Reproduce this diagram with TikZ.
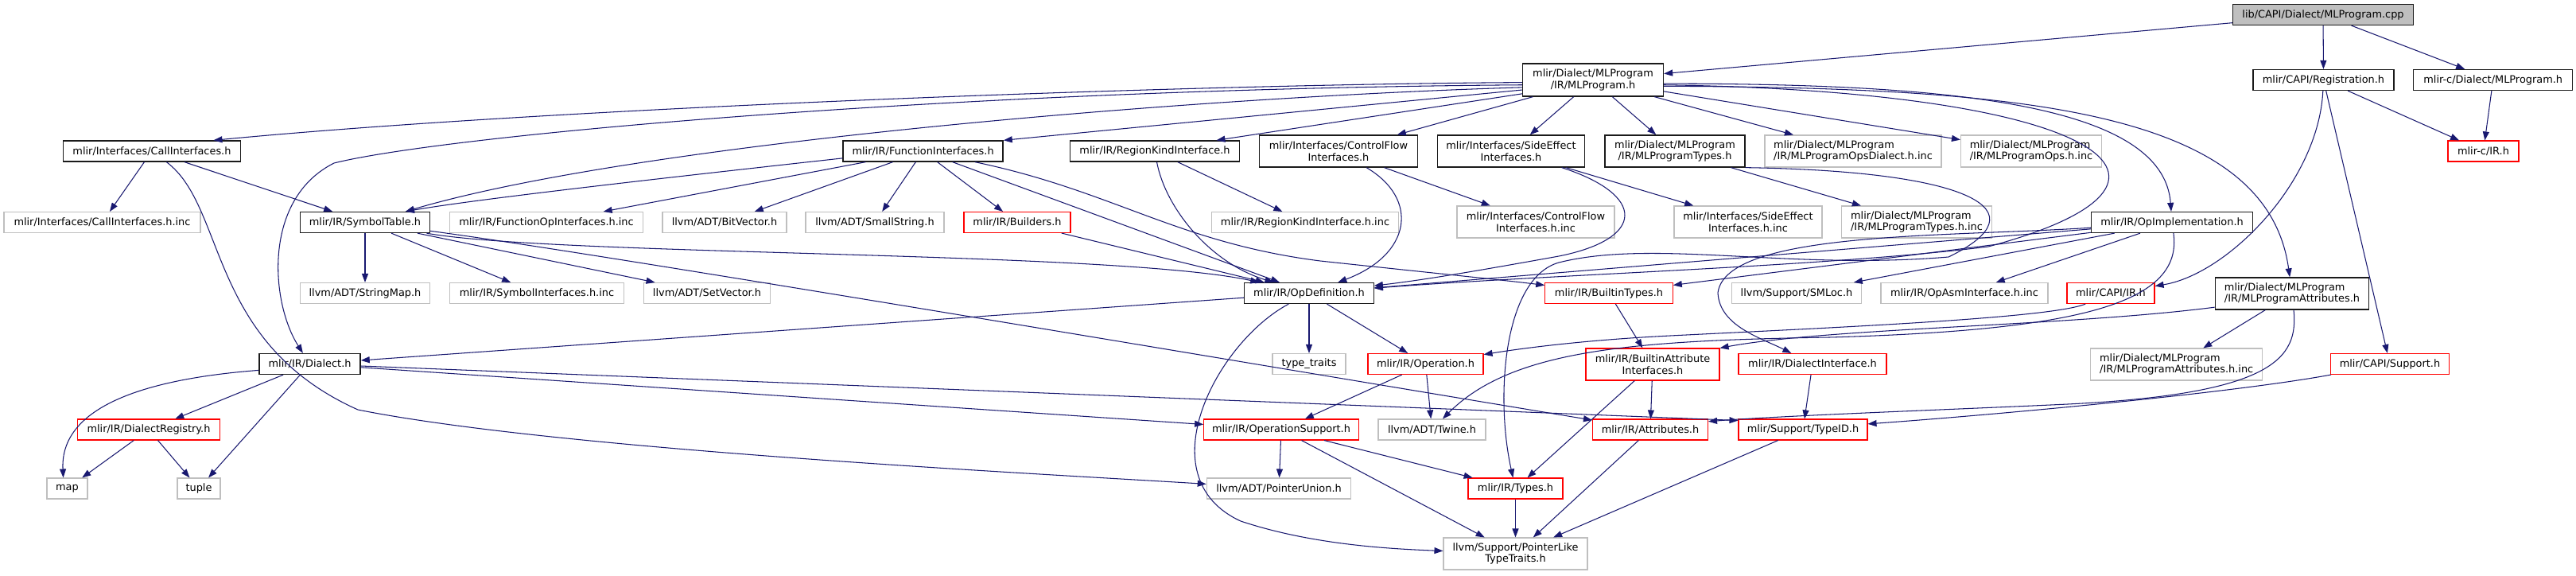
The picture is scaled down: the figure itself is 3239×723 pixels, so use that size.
\documentclass[tikz,border=0pt]{standalone}
\usepackage{fontspec}
\setmainfont{DejaVu Sans}
\usetikzlibrary{arrows.meta}
\definecolor{edgecol}{HTML}{191970}
\definecolor{docborder}{HTML}{1A1A1A}
\definecolor{grayborder}{HTML}{BFBFBF}
\definecolor{redborder}{HTML}{FF0000}
\definecolor{rootfill}{HTML}{BFBFBF}
\begin{document}
\begin{tikzpicture}[x=1pt,y=-1pt,
  base/.style={draw, line width=1.1pt, inner sep=0pt, align=center, font=\fontsize{12.9}{14.5}\selectfont, fill=white, anchor=center, minimum height=26pt},
  docnode/.style={base, draw=docborder, line width=1.3pt},
  graynode/.style={base, draw=grayborder},
  rednode/.style={base, draw=redborder},
  rootnode/.style={base, draw=docborder, line width=1.3pt, fill=rootfill},
  twoline/.style={minimum height=40pt},
  dep/.style={draw=edgecol, line width=1.05pt, -{Triangle[length=11pt,width=8pt]}}
]
\fill[white] (0,0) rectangle (3239,723);
\useasboundingbox (0,0) rectangle (3239,723);

% ---------- nodes ----------
\node[rootnode, minimum width=227pt] (cpp) at (2921,18.5) {lib/CAPI/Dialect/MLProgram.cpp};

\node[docnode, twoline, minimum width=177pt, minimum height=41pt] (mlp) at (2003,100.5) {mlir/Dialect/MLProgram\\/IR/MLProgram.h};
\node[docnode, minimum width=177pt] (reg) at (2921.5,100.5) {mlir/CAPI/Registration.h};
\node[docnode, minimum width=200pt] (cml) at (3134.7,100.5) {mlir-c/Dialect/MLProgram.h};

\node[docnode, minimum width=223pt] (calli) at (191,190) {mlir/Interfaces/CallInterfaces.h};
\node[docnode, minimum width=201pt] (funci) at (1160.6,190) {mlir/IR/FunctionInterfaces.h};
\node[docnode, minimum width=213.5pt] (regk) at (1452,190) {mlir/IR/RegionKindInterface.h};
\node[docnode, twoline, minimum width=199pt] (cfi) at (1683,190) {mlir/Interfaces/ControlFlow\\Interfaces.h};
\node[docnode, twoline, minimum width=185pt] (sei) at (1900,190) {mlir/Interfaces/SideEffect\\Interfaces.h};
\node[docnode, twoline, minimum width=176pt] (mlpt) at (2106,190) {mlir/Dialect/MLProgram\\/IR/MLProgramTypes.h};
\node[graynode, twoline, minimum width=222pt, align=left] (opsd) at (2330,190) {mlir/Dialect/MLProgram\\/IR/MLProgramOpsDialect.h.inc};
\node[graynode, twoline, minimum width=177pt, align=left] (opsinc) at (2554,190) {mlir/Dialect/MLProgram\\/IR/MLProgramOps.h.inc};
\node[rednode, minimum width=89pt] (cir) at (3122.5,190) {mlir-c/IR.h};

\node[graynode, minimum width=247pt] (callinc) at (128.5,279.5) {mlir/Interfaces/CallInterfaces.h.inc};
\node[docnode, minimum width=163pt] (symt) at (459,279.5) {mlir/IR/SymbolTable.h};
\node[graynode, minimum width=243pt] (fopinc) at (687,279.5) {mlir/IR/FunctionOpInterfaces.h.inc};
\node[graynode, minimum width=156pt] (bitv) at (911,279.5) {llvm/ADT/BitVector.h};
\node[graynode, minimum width=174pt] (smalls) at (1100,279.5) {llvm/ADT/SmallString.h};
\node[rednode, minimum width=134pt] (build) at (1279,279.5) {mlir/IR/Builders.h};
\node[graynode, minimum width=235pt] (regkinc) at (1641,279.5) {mlir/IR/RegionKindInterface.h.inc};
\node[graynode, twoline, minimum width=198pt] (cfiinc) at (1931,279) {mlir/Interfaces/ControlFlow\\Interfaces.h.inc};
\node[graynode, twoline, minimum width=186pt] (seiinc) at (2198,279) {mlir/Interfaces/SideEffect\\Interfaces.h.inc};
\node[graynode, twoline, minimum width=189pt, align=left] (mlptinc) at (2410,279) {mlir/Dialect/MLProgram\\/IR/MLProgramTypes.h.inc};
\node[docnode, minimum width=203pt] (opimpl) at (2731,279.5) {mlir/IR/OpImplementation.h};

\node[graynode, minimum width=163pt] (strmap) at (459,368.5) {llvm/ADT/StringMap.h};
\node[graynode, minimum width=218.5pt] (syminc) at (675,368.5) {mlir/IR/SymbolInterfaces.h.inc};
\node[graynode, minimum width=159pt] (setv) at (889,368.5) {llvm/ADT/SetVector.h};
\node[docnode, minimum width=162.5pt] (opdef) at (1646,368.5) {mlir/IR/OpDefinition.h};
\node[rednode, minimum width=160.5pt] (btypes) at (2023,368.5) {mlir/IR/BuiltinTypes.h};
\node[graynode, minimum width=162.5pt] (smloc) at (2259,368.5) {llvm/Support/SMLoc.h};
\node[graynode, minimum width=210pt] (opasm) at (2470,368.5) {mlir/IR/OpAsmInterface.h.inc};
\node[rednode, minimum width=110pt] (capiir) at (2654,368.5) {mlir/CAPI/IR.h};
\node[docnode, twoline, minimum width=193.5pt, align=left] (mlpa) at (2882,369) {mlir/Dialect/MLProgram\\/IR/MLProgramAttributes.h};

\node[docnode, minimum width=127pt] (dialect) at (389.6,457.5) {mlir/IR/Dialect.h};
\node[graynode, minimum width=92pt] (ttraits) at (1646,457.5) {type\_traits};
\node[rednode, minimum width=145pt] (oper) at (1792.5,457.5) {mlir/IR/Operation.h};
\node[rednode, twoline, minimum width=168pt] (bai) at (2078,458) {mlir/IR/BuiltinAttribute\\Interfaces.h};
\node[rednode, minimum width=186pt] (dint) at (2279,457.5) {mlir/IR/DialectInterface.h};
\node[graynode, twoline, minimum width=216pt, align=left] (mlpainc) at (2736.7,458) {mlir/Dialect/MLProgram\\/IR/MLProgramAttributes.h.inc};
\node[rednode, minimum width=148.5pt] (csup) at (3005,457.5) {mlir/CAPI/Support.h};

\node[rednode, minimum width=179pt] (dreg) at (187,540) {mlir/IR/DialectRegistry.h};
\node[rednode, minimum width=194.5pt] (opsup) at (1611,540) {mlir/IR/OperationSupport.h};
\node[graynode, minimum width=135pt] (twine) at (1800.5,540) {llvm/ADT/Twine.h};
\node[rednode, minimum width=145pt] (attrs) at (2075,540) {mlir/IR/Attributes.h};
\node[rednode, minimum width=162pt] (typeid) at (2267,540) {mlir/Support/TypeID.h};

\node[graynode, minimum width=51pt] (map) at (84.5,614) {map};
\node[graynode, minimum width=54pt] (tuple) at (250,614) {tuple};
\node[graynode, minimum width=181.5pt] (punion) at (1608,614) {llvm/ADT/PointerUnion.h};
\node[rednode, minimum width=119pt] (types) at (1905.5,614) {mlir/IR/Types.h};

\node[graynode, twoline, minimum width=181pt] (plike) at (1905.5,696) {llvm/Support/PointerLike\\TypeTraits.h};

% ---------- edges ----------
\draw[dep] (cpp) -- (mlp);
\draw[dep] (cpp) -- (reg);
\draw[dep] (cpp) -- (cml);
\draw[dep] (reg) -- (cir);
\draw[dep] (cml) -- (cir);
\draw[dep] (reg) .. controls (2915,230) and (2800,345) .. (capiir);
\draw[dep] (reg) -- (csup);

\draw[dep] (mlp.182) .. controls (1500,106) and (700,135) .. (calli.10);
\draw[dep] (mlp.184) .. controls (1200,112) and (560,170) .. (420,205) .. controls (330,250) and (340,380) .. (dialect);
\draw[dep] (mlp.186) .. controls (1500,122) and (800,180) .. (symt.15);
\draw[dep] (mlp.188) -- (funci.north east);
\draw[dep] (mlp.191) -- (regk.10);
\draw[dep] (mlp) -- (cfi);
\draw[dep] (mlp) -- (sei);
\draw[dep] (mlp) -- (mlpt);
\draw[dep] (mlp) -- (opsd);
\draw[dep] (mlp) -- (opsinc);
\draw[dep] (mlp.-3) .. controls (2450,105) and (2720,130) .. (opimpl);
\draw[dep] (mlp.-5) .. controls (2550,110) and (2850,140) .. (mlpa);
\draw[dep] (mlp.-4) .. controls (2650,115) and (2800,230) .. (2500,310) .. controls (2300,335) and (1950,345) .. (opdef);

\draw[dep] (calli) -- (callinc);
\draw[dep] (calli) -- (symt);
\draw[dep] (calli) .. controls (285,260) and (260,430) .. (450,515) .. controls (700,565) and (1300,595) .. (punion);

\draw[dep] (symt) -- (strmap);
\draw[dep] (symt) -- (syminc);
\draw[dep] (symt) -- (setv);
\draw[dep] (symt) .. controls (700,322) and (1400,315) .. (opdef);
\draw[dep] (symt) .. controls (750,318) and (1500,445) .. (attrs);

\draw[dep] (funci.185) .. controls (850,222) and (600,250) .. (symt.15);
\draw[dep] (funci) -- (fopinc);
\draw[dep] (funci) -- (bitv);
\draw[dep] (funci) -- (smalls);
\draw[dep] (funci) -- (build);
\draw[dep] (funci) -- (opdef);
\draw[dep] (funci) .. controls (1400,240) and (1480,305) .. (1660,328) .. controls (1800,343) and (1890,352) .. (btypes);

\draw[dep] (regk) .. controls (1465,260) and (1520,330) .. (opdef);
\draw[dep] (regk) -- (regkinc);

\draw[dep] (cfi) .. controls (1785,250) and (1775,320) .. (opdef);
\draw[dep] (cfi) -- (cfiinc);

\draw[dep] (sei) -- (seiinc);
\draw[dep] (sei) .. controls (2070,245) and (2070,300) .. (1960,322) .. controls (1860,340) and (1790,352) .. (opdef);

\draw[dep] (mlpt) -- (mlptinc);
\draw[dep] (mlpt.south east) .. controls (2480,215) and (2570,265) .. (2450,323) .. controls (2250,340) and (2080,300) .. (1960,330) .. controls (1890,350) and (1880,500) .. (types);

\draw[dep] (opimpl) -- (opdef);
\draw[dep] (opimpl) -- (btypes);
\draw[dep] (opimpl) -- (smloc);
\draw[dep] (opimpl) -- (opasm);
\draw[dep] (opimpl) .. controls (2450,298) and (2170,290) .. (2160,368) .. controls (2162,410) and (2215,425) .. (dint);
\draw[dep] (opimpl) .. controls (2745,380) and (2620,415) .. (2300,424) .. controls (2050,428) and (1900,440) .. (twine);

\draw[dep] (capiir) .. controls (2580,400) and (2300,412) .. (2100,422) .. controls (1980,428) and (1900,440) .. (oper);

\draw[dep] (mlpa) -- (mlpainc);
\draw[dep] (mlpa) .. controls (2890,450) and (2860,495) .. (2600,508) .. controls (2450,515) and (2250,522) .. (attrs.8);
\draw[dep] (mlpa.190) .. controls (2600,410) and (2300,412) .. (bai.north east);

\draw[dep] (csup) .. controls (2800,495) and (2500,522) .. (typeid.5);

\draw[dep] (opdef) -- (dialect);
\draw[dep] (opdef) -- (ttraits);
\draw[dep] (opdef) -- (oper);
\draw[dep] (opdef) .. controls (1530,430) and (1440,600) .. (1560,655) .. controls (1650,685) and (1750,690) .. (plike);

\draw[dep] (dialect.187) .. controls (200,475) and (75,505) .. (map.110);
\draw[dep] (dialect) -- (dreg);
\draw[dep] (dialect) -- (tuple);
\draw[dep] (dialect) -- (typeid.172);
\draw[dep] (dialect) -- (opsup);

\draw[dep] (oper) -- (opsup);
\draw[dep] (oper) -- (twine);

\draw[dep] (bai) -- (types);
\draw[dep] (bai) -- (attrs);

\draw[dep] (dint) -- (typeid);

\draw[dep] (dreg) -- (map);
\draw[dep] (dreg) -- (tuple);

\draw[dep] (opsup) -- (punion);
\draw[dep] (opsup) -- (types);
\draw[dep] (opsup) -- (plike);

\draw[dep] (attrs) -- (plike);
\draw[dep] (typeid) -- (plike);
\draw[dep] (types) -- (plike);

\draw[dep] (btypes) -- (bai);
\draw[dep] (build) -- (opdef);
\end{tikzpicture}
\end{document}
